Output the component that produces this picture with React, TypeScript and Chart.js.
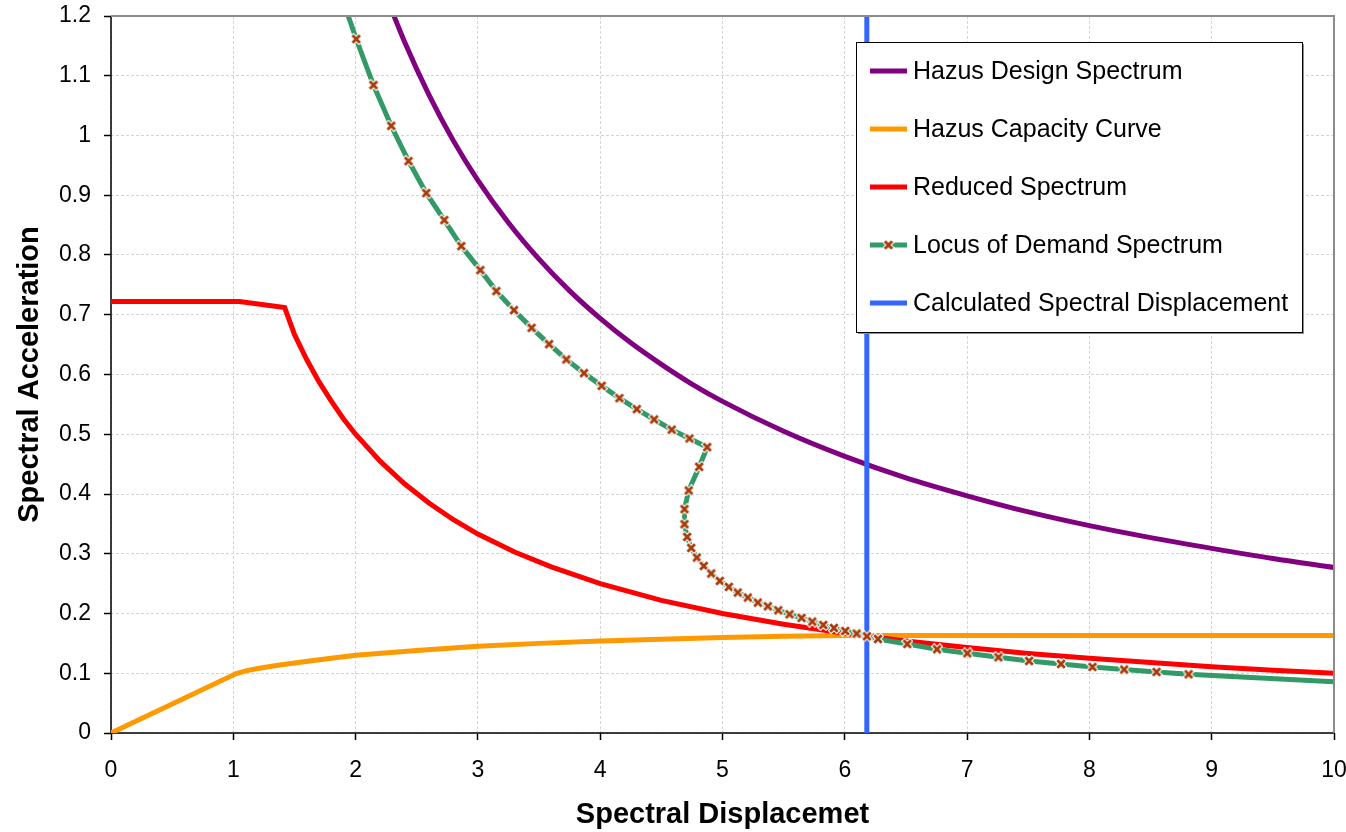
import { useEffect, useRef } from 'react';
import { Chart, registerables } from 'chart.js';

Chart.register(...registerables);

// ---------- DATA ----------
const seriesNames = [
  'Hazus Design Spectrum',
  'Hazus Capacity Curve',
  'Reduced Spectrum',
  'Locus of Demand Spectrum',
  'Calculated Spectral Displacement',
];

const designX = [2.25, 2.4, 2.6, 2.8, 3.0, 3.25, 3.5, 3.75, 4.0, 4.25, 4.5, 4.75, 5.0, 5.5, 6.0, 6.5, 7.0, 7.5, 8.0, 8.5, 9.0, 9.5, 10.0];
const designY = [1.233, 1.157, 1.068, 0.991, 0.925, 0.854, 0.793, 0.740, 0.694, 0.653, 0.617, 0.584, 0.555, 0.505, 0.463, 0.427, 0.397, 0.370, 0.347, 0.327, 0.309, 0.292, 0.277];

const capacityX = [0, 1.02, 1.1, 1.2, 1.35, 1.5, 1.75, 2.0, 2.5, 3.0, 3.5, 4.0, 4.5, 5.0, 5.5, 6.0, 6.2, 10.0];
const capacityY = [0, 0.099, 0.104, 0.108, 0.113, 0.117, 0.124, 0.130, 0.138, 0.145, 0.150, 0.154, 0.157, 0.160, 0.162, 0.163, 0.163, 0.163];

const reducedX = [0, 1.05, 1.42, 1.5, 1.6, 1.7, 1.8, 1.9, 2.0, 2.2, 2.4, 2.6, 2.8, 3.0, 3.3, 3.6, 4.0, 4.5, 5.0, 5.5, 6.0, 6.5, 7.0, 7.5, 8.0, 8.5, 9.0, 9.5, 10.0];
const reducedY = [0.722, 0.722, 0.712, 0.667, 0.625, 0.588, 0.556, 0.526, 0.5, 0.455, 0.417, 0.385, 0.357, 0.333, 0.303, 0.278, 0.25, 0.222, 0.2, 0.182, 0.167, 0.154, 0.143, 0.133, 0.125, 0.118, 0.111, 0.105, 0.1];

const locusX = [
  1.864, 2.005, 2.146, 2.291, 2.433, 2.578, 2.725, 2.864, 3.020, 3.151, 3.295, 3.439, 3.582, 3.723, 3.868, 4.012,
  4.157, 4.299, 4.441, 4.585, 4.730, 4.875, 4.809, 4.724, 4.689, 4.689, 4.711, 4.744, 4.790, 4.847, 4.908, 4.978,
  5.052, 5.125, 5.207, 5.289, 5.371, 5.456, 5.548, 5.646, 5.734, 5.824, 5.911, 6.004, 6.097, 6.181, 6.271, 6.511,
  6.754, 7.002, 7.256, 7.507, 7.768, 8.025, 8.284, 8.549, 8.811, 9.4, 10.0,
];
const locusY = [
  1.245, 1.1615, 1.0845, 1.0163, 0.9572, 0.9036, 0.8584, 0.8149, 0.7747, 0.7396, 0.7077, 0.6781, 0.6508, 0.6252, 0.6023, 0.581,
  0.5604, 0.542, 0.5247, 0.5077, 0.4929, 0.4784, 0.4454, 0.4059, 0.3746, 0.3494, 0.3282, 0.3098, 0.2937, 0.2796, 0.2669, 0.2545,
  0.2445, 0.2351, 0.2267, 0.2183, 0.2121, 0.2054, 0.1987, 0.1926, 0.1865, 0.1808, 0.1758, 0.1708, 0.1664, 0.1619, 0.1574, 0.149,
  0.1401, 0.1334, 0.1267, 0.1206, 0.1155, 0.1105, 0.1062, 0.1021, 0.0983, 0.092, 0.0858,
];
// points from this index on are drawn without a marker
const locusMarkedCount = 57;

const calcX = [6.18, 6.18];
const calcY = [0, 1.2];

const xTicks = [0, 1, 2, 3, 4, 5, 6, 7, 8, 9, 10];
const xTickLabels = ['0', '1', '2', '3', '4', '5', '6', '7', '8', '9', '10'];
const yTicks = [0, 0.1, 0.2, 0.3, 0.4, 0.5, 0.6, 0.7, 0.8, 0.9, 1.0, 1.1, 1.2];
const yTickLabels = ['0', '0.1', '0.2', '0.3', '0.4', '0.5', '0.6', '0.7', '0.8', '0.9', '1', '1.1', '1.2'];

const xTitle = 'Spectral Displacemet';
const yTitle = 'Spectral Acceleration';

// ---------- STYLE ----------
const PURPLE = '#800080';
const ORANGE = '#FF9900';
const RED = '#FF0000';
const GREEN = '#339966';
const BLUE = '#3366FF';
const MARKER = '#A83C0A';
const FONT = '"Liberation Sans", Arial, sans-serif';

function makeMarker() {
  const c = document.createElement('canvas');
  c.width = 12;
  c.height = 12;
  const g = c.getContext('2d')!;
  g.lineCap = 'butt';
  g.strokeStyle = '#ffffff';
  g.lineWidth = 5;
  g.beginPath();
  g.moveTo(1.5, 1.5); g.lineTo(10.5, 10.5);
  g.moveTo(10.5, 1.5); g.lineTo(1.5, 10.5);
  g.stroke();
  g.strokeStyle = MARKER;
  g.lineWidth = 2.8;
  g.beginPath();
  g.moveTo(2.3, 2.3); g.lineTo(9.7, 9.7);
  g.moveTo(9.7, 2.3); g.lineTo(2.3, 9.7);
  g.stroke();
  return c;
}

export default function App() {
  const ref = useRef<HTMLCanvasElement>(null);

  useEffect(() => {
    document.body.style.margin = '0';
    const marker = makeMarker();
    const pts = (xs: number[], ys: number[]) => xs.map((x, i) => ({ x, y: ys[i] }));
    const colors = [PURPLE, ORANGE, RED, GREEN, BLUE];

    const framePlugin = {
      id: 'frame',
      beforeDatasetsDraw(chart: any) {
        const { ctx, chartArea: a } = chart;
        ctx.save();
        ctx.strokeStyle = '#000';
        ctx.lineWidth = 1.5;
        ctx.beginPath();
        ctx.moveTo(a.left, a.top);
        ctx.lineTo(a.left, a.bottom);
        ctx.lineTo(a.right, a.bottom);
        ctx.stroke();
        ctx.restore();
      },
      afterDraw(chart: any) {
        const { ctx, chartArea: a } = chart;
        ctx.save();
        ctx.strokeStyle = '#8c8c8c';
        ctx.lineWidth = 2;
        ctx.beginPath();
        ctx.moveTo(a.left, a.top);
        ctx.lineTo(a.right, a.top);
        ctx.lineTo(a.right, a.bottom);
        ctx.stroke();

        // legend box
        const L = 856, T = 42, W = 446, H = 290;
        ctx.fillStyle = '#909090';
        ctx.fillRect(L + 2, T + 2, W, H);
        ctx.fillStyle = '#ffffff';
        ctx.fillRect(L, T, W, H);
        ctx.strokeStyle = '#000';
        ctx.lineWidth = 1;
        ctx.strokeRect(L + 0.5, T + 0.5, W, H);
        ctx.font = `25px ${FONT}`;
        ctx.textBaseline = 'middle';
        ctx.textAlign = 'left';
        seriesNames.forEach((name, i) => {
          const y = T + 29 + i * 58;
          ctx.strokeStyle = colors[i];
          ctx.lineWidth = 5;
          ctx.lineCap = 'butt';
          ctx.beginPath();
          ctx.moveTo(870, y);
          ctx.lineTo(907, y);
          ctx.stroke();
          if (i === 3) ctx.drawImage(marker, 888.5 - 6, y - 6);
          ctx.fillStyle = '#000';
          ctx.fillText(name, 913, y + 1);
        });
        ctx.restore();
      },
    };

    const chart = new Chart(ref.current!, {
      type: 'line',
      data: {
        datasets: [
          {
            label: seriesNames[3],
            data: pts(locusX, locusY),
            borderColor: GREEN,
            borderWidth: 5,
            tension: 0,
            pointStyle: marker as any,
            pointRadius: (c: any) => (c.dataIndex < locusMarkedCount ? 5 : 0),
            pointHoverRadius: 0,
            order: 1,
          },
          {
            label: seriesNames[4],
            data: pts(calcX, calcY),
            borderColor: BLUE,
            borderWidth: 5,
            pointRadius: 0,
            order: 2,
          },
          {
            label: seriesNames[2],
            data: pts(reducedX, reducedY),
            borderColor: RED,
            borderWidth: 5,
            tension: 0,
            pointRadius: 0,
            order: 3,
          },
          {
            label: seriesNames[1],
            data: pts(capacityX, capacityY),
            borderColor: ORANGE,
            borderWidth: 5,
            tension: 0,
            pointRadius: 0,
            order: 4,
          },
          {
            label: seriesNames[0],
            data: pts(designX, designY),
            borderColor: PURPLE,
            borderWidth: 5,
            cubicInterpolationMode: 'monotone',
            pointRadius: 0,
            order: 5,
          },
        ] as any,
      },
      options: {
        responsive: false,
        animation: false,
        events: [],
        layout: { padding: { left: 0, top: 16, right: 12, bottom: 0 } },
        plugins: { legend: { display: false }, tooltip: { enabled: false } },
        scales: {
          x: {
            type: 'linear',
            min: 0,
            max: 10,
            afterFit: (s: any) => {
              s.height = 99;
              s.paddingLeft = 0;
              s.paddingRight = 0;
            },
            afterBuildTicks: (s: any) => { s.ticks = xTicks.map((v) => ({ value: v })); },
            ticks: {
              font: { family: FONT, size: 23 },
              color: '#000',
              padding: 17,
              maxRotation: 0,
              callback: (v: any) => xTickLabels[xTicks.indexOf(Number(v))] ?? '',
            },
            grid: { color: '#d4d4d4', lineWidth: 1, tickColor: '#000', tickLength: 7, tickWidth: 1.5 },
            border: { display: false, dash: [3, 2] },
            title: {
              display: true,
              text: xTitle,
              font: { family: FONT, size: 29, weight: 'bold' },
              color: '#000',
              padding: { top: 0, bottom: 0 },
            },
          },
          y: {
            type: 'linear',
            min: 0,
            max: 1.2,
            afterFit: (s: any) => {
              s.width = 111;
              s.paddingTop = 0;
              s.paddingBottom = 0;
            },
            afterBuildTicks: (s: any) => { s.ticks = yTicks.map((v) => ({ value: v })); },
            ticks: {
              font: { family: FONT, size: 23 },
              color: '#000',
              padding: 13,
              callback: (v: any) => {
                const i = yTicks.findIndex((t) => Math.abs(t - Number(v)) < 1e-6);
                return i >= 0 ? yTickLabels[i] : '';
              },
            },
            grid: { color: '#d4d4d4', lineWidth: 1, tickColor: '#000', tickLength: 7, tickWidth: 1.5 },
            border: { display: false, dash: [3, 2] },
            title: {
              display: true,
              text: yTitle,
              font: { family: FONT, size: 29, weight: 'bold' },
              color: '#000',
              padding: { top: 13, bottom: 0 },
            },
          },
        },
      } as any,
      plugins: [framePlugin],
    });
    return () => chart.destroy();
  }, []);

  return (
    <div style={{ position: 'absolute', left: 0, top: 0, width: 1346, height: 832 }}>
      <canvas ref={ref} width={1346} height={832} style={{ display: 'block' }} />
    </div>
  );
}
